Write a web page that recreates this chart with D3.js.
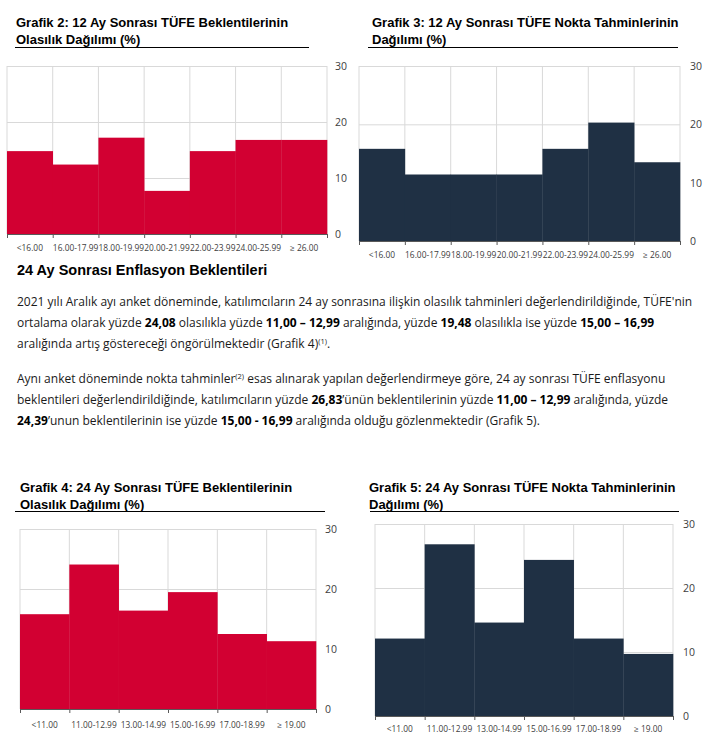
<!DOCTYPE html>
<html><head><meta charset="utf-8">
<script src="https://cdn.jsdelivr.net/npm/d3@7"></script>
<style>
html,body{margin:0;padding:0;background:#fff;}
svg{display:block;}
</style></head>
<body>
<svg id="c" width="713" height="747"></svg>
<script>
// ---- data ----
const cats12 = ["<16.00","16.00-17.99","18.00-19.99","20.00-21.99","22.00-23.99","24.00-25.99","\u2265 26.00"];
const grafik2Values = [14.8, 12.4, 17.2, 7.7, 14.8, 16.8, 16.8];
const grafik3Values = [15.8, 11.4, 11.4, 11.4, 15.8, 20.3, 13.5];
const cats24 = ["<11.00","11.00-12.99","13.00-14.99","15.00-16.99","17.00-18.99","\u2265 19.00"];
const grafik4Values = [15.8, 24.08, 16.4, 19.48, 12.5, 11.3];
const grafik5Values = [12.1, 26.83, 14.6, 24.39, 12.1, 9.7];
const yTicks = [0, 10, 20, 30];
const titles = [
  ["Grafik 2: 12 Ay Sonras\u0131 T\u00dcFE Beklentilerinin", "Olas\u0131l\u0131k Da\u011f\u0131l\u0131m\u0131 (%)"],
  ["Grafik 3: 12 Ay Sonras\u0131 T\u00dcFE Nokta Tahminlerinin", "Da\u011f\u0131l\u0131m\u0131 (%)"],
  ["Grafik 4: 24 Ay Sonras\u0131 T\u00dcFE Beklentilerinin", "Olas\u0131l\u0131k Da\u011f\u0131l\u0131m\u0131 (%)"],
  ["Grafik 5: 24 Ay Sonras\u0131 T\u00dcFE Nokta Tahminlerinin", "Da\u011f\u0131l\u0131m\u0131 (%)"]
];
const heading = "24 Ay Sonras\u0131 Enflasyon Beklentileri";
// paragraph lines: arrays of [text, style] ; style: n normal, b bold, s superscript
const para1 = [
  [["2021 y\u0131l\u0131 Aral\u0131k ay\u0131 anket d\u00f6neminde, kat\u0131l\u0131mc\u0131lar\u0131n 24 ay sonras\u0131na ili\u015fkin olas\u0131l\u0131k tahminleri de\u011ferlendirildi\u011finde, T\u00dcFE'nin","n"]],
  [["ortalama olarak y\u00fczde ","n"],["24,08","b"],[" olas\u0131l\u0131kla y\u00fczde ","n"],["11,00 \u2013 12,99","b"],[" aral\u0131\u011f\u0131nda, y\u00fczde ","n"],["19,48","b"],[" olas\u0131l\u0131kla ise y\u00fczde ","n"],["15,00 \u2013 16,99","b"]],
  [["aral\u0131\u011f\u0131nda art\u0131\u015f g\u00f6sterece\u011fi \u00f6ng\u00f6r\u00fclmektedir (Grafik 4)","n"],["(1)","s"],[".","n"]]
];
const para2 = [
  [["Ayn\u0131 anket d\u00f6neminde nokta tahminler","n"],["(2)","s"],[" esas al\u0131narak yap\u0131lan de\u011ferlendirmeye g\u00f6re, 24 ay sonras\u0131 T\u00dcFE enflasyonu","n"]],
  [["beklentileri de\u011ferlendirildi\u011finde, kat\u0131l\u0131mc\u0131lar\u0131n y\u00fczde ","n"],["26,83","b"],["\u2019\u00fcn\u00fcn beklentilerinin y\u00fczde ","n"],["11,00 \u2013 12,99","b"],[" aral\u0131\u011f\u0131nda, y\u00fczde","n"]],
  [["24,39","b"],["\u2019unun beklentilerinin ise y\u00fczde ","n"],["15,00 - 16,99","b"],[" aral\u0131\u011f\u0131nda oldu\u011fu g\u00f6zlenmektedir (Grafik 5).","n"]]
];

const RED = "#d20032", NAVY = "#1f3044";
const svg = d3.select("#c");

function drawChart(o){
  const g = svg.append("g");
  // title
  const t = g.append("text").attr("font-family","Liberation Sans, Arial, sans-serif")
    .attr("font-weight","bold").attr("font-size",13).attr("fill","#000");
  t.append("tspan").attr("x",o.tx).attr("y",o.ty).text(o.title[0]);
  t.append("tspan").attr("x",o.tx).attr("y",o.ty+16.5).text(o.title[1]);
  g.append("line").attr("x1",o.ux1).attr("x2",o.ux2).attr("y1",o.uy).attr("y2",o.uy)
    .attr("stroke","#000").attr("stroke-width",1);

  const x = d3.scaleBand().domain(o.cats).range([o.x0,o.x1]).paddingInner(0).paddingOuter(0);
  const y = d3.scaleLinear().domain([0,30]).range([o.y0,o.y1]);

  // horizontal gridlines
  g.append("g").selectAll("line").data(yTicks.filter(d=>d>0)).join("line")
    .attr("x1",o.x0).attr("x2",o.x1).attr("y1",d=>y(d)+0.5).attr("y2",d=>y(d)+0.5)
    .attr("stroke","#d9d9d9").attr("stroke-width",1);
  // vertical gridlines at boundaries
  const bounds = o.cats.map(c=>x(c)).concat([o.x1]);
  g.append("g").selectAll("line").data(bounds).join("line")
    .attr("x1",d=>d).attr("x2",d=>d).attr("y1",y(30)).attr("y2",o.y0)
    .attr("stroke","#d9d9d9").attr("stroke-width",1);

  // bars
  g.append("g").selectAll("rect").data(o.values).join("rect")
    .attr("x",(d,i)=>x(o.cats[i])).attr("width",x.bandwidth()+0.3)
    .attr("y",d=>y(d)).attr("height",d=>o.y0-y(d)).attr("fill",o.color);

  // x axis baseline + boundary ticks
  g.append("line").attr("x1",o.x0).attr("x2",o.x1).attr("y1",o.y0+0.5).attr("y2",o.y0+0.5)
    .attr("stroke","#595959").attr("stroke-width",1);
  g.append("g").selectAll("line").data(bounds).join("line")
    .attr("x1",d=>d+0.5).attr("x2",d=>d+0.5).attr("y1",o.y0).attr("y2",o.y0+4)
    .attr("stroke","#595959").attr("stroke-width",1);

  // x labels
  const xa = d3.axisBottom(x).tickSize(0).tickPadding(0);
  const xg = g.append("g").attr("transform",`translate(0,${o.xly})`).call(xa);
  xg.select(".domain").remove();
  xg.selectAll("text").attr("font-family","Open Sans, sans-serif").attr("font-size",8.4)
    .attr("fill","#404040").attr("dy","0.32em");

  // y labels on right
  const ya = d3.axisRight(y).tickValues(yTicks).tickSize(0).tickPadding(0);
  const yg = g.append("g").attr("transform",`translate(${o.ylx},0)`).call(ya);
  yg.select(".domain").remove();
  yg.selectAll("text").attr("font-family","Open Sans, sans-serif").attr("font-size",10.5)
    .attr("fill","#404040");
}

drawChart({title:titles[0],tx:16,ty:27,ux1:15,ux2:309,uy:47.5,cats:cats12,values:grafik2Values,color:RED,
  x0:7,x1:327,y0:234,y1:66,xly:248,ylx:335});
drawChart({title:titles[1],tx:372,ty:27,ux1:368,ux2:678,uy:47.5,cats:cats12,values:grafik3Values,color:NAVY,
  x0:359,x1:680,y0:241,y1:66,xly:255,ylx:690});
drawChart({title:titles[2],tx:20,ty:492,ux1:15,ux2:325,uy:511.5,cats:cats24,values:grafik4Values,color:RED,
  x0:20,x1:316,y0:709,y1:529,xly:725,ylx:325});
drawChart({title:titles[3],tx:369,ty:492,ux1:370,ux2:679,uy:511.5,cats:cats24,values:grafik5Values,color:NAVY,
  x0:375,x1:673,y0:716,y1:524,xly:729,ylx:683});

// heading
svg.append("text").attr("x",17).attr("y",275).attr("font-family","Liberation Sans, Arial, sans-serif")
  .attr("font-weight","bold").attr("font-size",14.5).attr("fill","#000").text(heading);

function drawPara(lines, y0, dy){
  lines.forEach((parts,i)=>{
    const t = svg.append("text").attr("x",17).attr("y",y0+i*dy)
      .attr("font-family","Open Sans, sans-serif").attr("font-size",12).attr("fill","#1a1a1a");
    parts.forEach(([s,st])=>{
      const ts = t.append("tspan").text(s);
      if(st==="b") ts.attr("font-weight","bold").attr("fill","#000");
      if(st==="s") ts.attr("font-size",7.5).attr("baseline-shift","4");
    });
  });
}
drawPara(para1, 305.5, 21);
drawPara(para2, 383, 21);
</script>
</body></html>
